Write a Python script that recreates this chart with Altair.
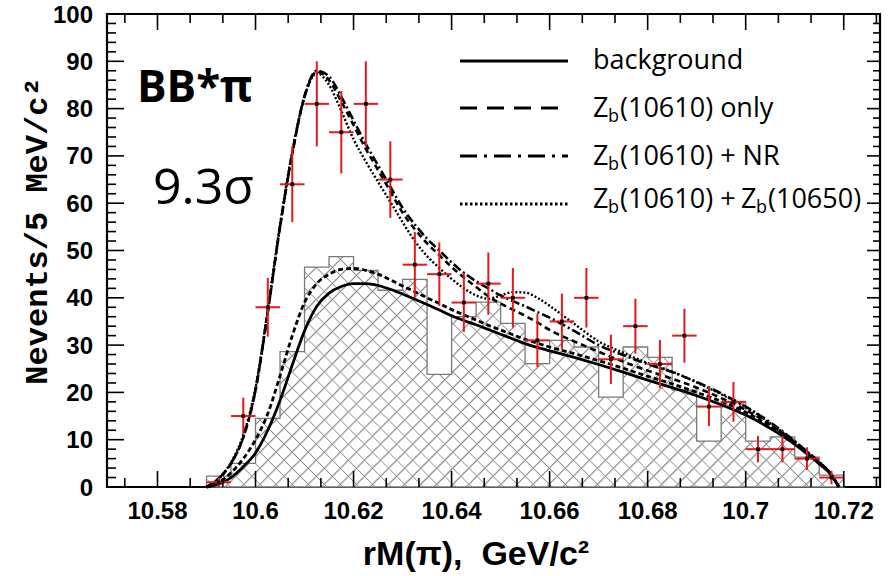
import altair as alt
import pandas as pd

# ---------------- data ----------------
bin_centers = [10.5925, 10.5975, 10.6025, 10.6075, 10.6125, 10.6175, 10.6225, 10.6275,
               10.6325, 10.6375, 10.6425, 10.6475, 10.6525, 10.6575, 10.6625, 10.6675,
               10.6725, 10.6775, 10.6825, 10.6875, 10.6925, 10.6975, 10.7025, 10.7075,
               10.7125, 10.7175]
bin_half_width = 0.0025
n_events = [1, 15, 38, 64, 81, 75, 81, 65, 47, 45, 39, 43, 40, 31, 35, 40, 27, 34, 26, 32,
            17, 18, 8, 8, 6, 2]
n_err = [1.0, 3.9, 6.2, 8.0, 9.0, 8.7, 9.0, 8.1, 6.9, 6.7, 6.2, 6.6, 6.3, 5.6, 5.9, 6.3,
         5.2, 5.8, 5.1, 5.7, 4.1, 4.2, 2.8, 2.8, 2.4, 1.4]
bkg_mc = [2.3, 5.0, 14.5, 28.6, 46.5, 48.7, 45.8, 41.6, 43.9, 23.8, 36.0, 39.1, 34.6, 26.1,
          31.0, 29.6, 19.0, 29.6, 27.4, 20.5, 9.7, 18.0, 9.7, 10.6, 6.3, 2.5]

curve_x = [10.590, 10.5925, 10.595, 10.5975, 10.600, 10.6025, 10.605, 10.6075, 10.610, 10.6125,
           10.615, 10.6175, 10.620, 10.6225, 10.625, 10.6275, 10.630, 10.6325, 10.635, 10.6375,
           10.640, 10.6425, 10.645, 10.6475, 10.650, 10.6525, 10.655, 10.6575, 10.660,
           10.665, 10.670, 10.675, 10.680, 10.685, 10.690, 10.695, 10.700, 10.705, 10.710,
           10.7125, 10.715, 10.7175, 10.719]
bkg_fit = [0, 0.6, 2.0, 4.3, 7.2, 12.0, 18.3, 25.8, 33.0, 38.2, 41.0, 42.4, 43.0, 43.0, 42.6,
           41.8, 40.8, 39.7, 38.6, 37.4, 36.2, 35.2, 34.3, 33.3, 32.3, 31.3, 30.3, 29.5, 28.8,
           27.4, 25.9, 24.3, 22.6, 21.0, 19.3, 17.4, 15.2, 12.4, 9.0, 7.0, 4.9, 2.5, 0]
bkg_nr = [0, 1.0, 3.0, 6.0, 10.0, 15.5, 23.5, 32.0, 39.0, 43.0, 45.0, 46.0, 46.2, 45.8, 45.0,
          43.8, 42.5, 41.3, 40.0, 38.8, 37.5, 36.4, 35.3, 34.2, 33.2, 32.2, 31.2, 30.4, 29.6,
          28.2, 26.7, 25.1, 23.4, 21.8, 20.0, 18.1, 15.8, 12.9, 9.3, 7.2, 5.0, 2.5, 0]
zb_only = [0, 1.8, 5.0, 10.5, 20.5, 37.0, 55.0, 70.5, 82.5, 87.8, 86.0, 81.5, 76.5, 71.5, 67.0,
           62.5, 58.0, 54.5, 51.5, 49.0, 46.5, 44.3, 42.3, 40.3, 38.8, 37.5, 36.2, 34.8, 33.2,
           30.8, 28.6, 26.5, 24.6, 22.9, 21.0, 18.8, 16.3, 13.2, 9.4, 7.3, 5.2, 2.6, 0]
zb_nr = [0, 1.8, 5.0, 10.5, 20.5, 37.0, 55.0, 70.5, 82.7, 88.0, 86.8, 82.5, 77.5, 72.5, 68.0,
         63.5, 59.0, 55.5, 52.5, 50.0, 47.5, 45.3, 43.5, 42.0, 40.5, 39.3, 38.2, 37.0, 35.8,
         33.0, 30.0, 27.9, 26.0, 24.3, 22.2, 19.8, 17.0, 13.7, 9.7, 7.5, 5.3, 2.6, 0]
zb_zb = [0, 1.8, 5.2, 11.0, 21.0, 37.5, 55.5, 71.0, 82.5, 87.5, 85.0, 79.5, 73.5, 68.8, 64.5,
         60.3, 56.0, 52.0, 48.8, 46.3, 44.0, 42.0, 40.5, 39.8, 40.5, 41.2, 41.1, 40.0, 38.3,
         34.5, 30.8, 28.4, 26.2, 24.4, 22.1, 19.6, 16.9, 13.5, 9.6, 7.4, 5.3, 2.6, 0]

x_tick_values = [10.58, 10.60, 10.62, 10.64, 10.66, 10.68, 10.70, 10.72]
x_tick_labels = ["10.58", "10.6", "10.62", "10.64", "10.66", "10.68", "10.7", "10.72"]
y_tick_values = [0, 10, 20, 30, 40, 50, 60, 70, 80, 90, 100]
y_tick_labels = ["0", "10", "20", "30", "40", "50", "60", "70", "80", "90", "100"]
x_title = "rM(π),\u00a0\u00a0GeV/c²"
y_title = "Nevents/5 MeV/c²"

# ---------------- layout ----------------
W, H = 773, 473
XDOM = [10.5697, 10.7274]
YDOM = [0, 100]
xs = alt.Scale(domain=XDOM, nice=False, zero=False)
ys = alt.Scale(domain=YDOM, nice=False, zero=False)
RED = "#e3191c"
ONE = alt.Data(values=[{}])

# ---------------- tables ----------------
pts = pd.DataFrame({
    "x": bin_centers, "n": n_events,
    "lo": [v - e for v, e in zip(n_events, n_err)],
    "hi": [v + e for v, e in zip(n_events, n_err)],
    "xl": [c - bin_half_width for c in bin_centers],
    "xr": [c + bin_half_width for c in bin_centers],
})
hist = pd.DataFrame({
    "x": [c - bin_half_width for c in bin_centers] + [bin_centers[-1] + bin_half_width],
    "y": bkg_mc + [bkg_mc[-1]],
})
curves = pd.DataFrame({"x": curve_x, "bkg": bkg_fit, "bkgnr": bkg_nr,
                       "only": zb_only, "nr": zb_nr, "zz": zb_zb})

# ---------------- hatch (cross-hatch via striped gradients) ----------------
hw = (hist["x"].max() - hist["x"].min()) / (XDOM[1] - XDOM[0]) * W
hh = max(bkg_mc) / (YDOM[1] - YDOM[0]) * H
r = hh / hw
k = (1 + r) / (1 + r * r)
period = 16.0
nstripes = int((hw + hh) / period)
half = 1.6 / (hw + hh)


def stripes(base):
    stops = [alt.GradientStop(offset=0, color=base)]
    for i in range(nstripes):
        c = (i + 0.5) / nstripes
        stops.append(alt.GradientStop(offset=c - half, color=base))
        stops.append(alt.GradientStop(offset=c, color="#858585"))
        stops.append(alt.GradientStop(offset=c + half, color=base))
    stops.append(alt.GradientStop(offset=1, color=base))
    return stops


grad_a = alt.Gradient(gradient="linear", stops=stripes("#ffffff"),
                      x1=0, y1=0, x2=k, y2=k * r)
grad_b = alt.Gradient(gradient="linear", stops=stripes("rgba(255,255,255,0)"),
                      x1=0, y1=1, x2=k, y2=1 - k * r)

hatch_a = alt.Chart(hist).mark_area(interpolate="step-after", color=grad_a, opacity=1).encode(
    x=alt.X("x:Q", scale=xs, axis=None), y=alt.Y("y:Q", scale=ys, axis=None))
hatch_b = alt.Chart(hist).mark_area(interpolate="step-after", color=grad_b, opacity=1,
                                    stroke="#7a7a7a", strokeWidth=1.3).encode(
    x=alt.X("x:Q", scale=xs, axis=None), y=alt.Y("y:Q", scale=ys, axis=None))


def curve(field, dash, width=2.6):
    kw = {"strokeDash": dash} if dash else {}
    return alt.Chart(curves).mark_line(color="black", strokeWidth=width,
                                       interpolate="monotone", **kw).encode(
        x=alt.X("x:Q", scale=xs, axis=None), y=alt.Y(f"{field}:Q", scale=ys, axis=None))


c_bkg = curve("bkg", None, 2.8)
c_bkgnr = curve("bkgnr", [5, 3], 2.8)
c_only = curve("only", [6, 4], 2.6)
c_nr = curve("nr", [9, 3, 2, 3], 2.6)
c_zz = curve("zz", [2, 2], 2.4)

ebar_v = alt.Chart(pts).mark_rule(color=RED, strokeWidth=2).encode(
    x=alt.X("x:Q", scale=xs, axis=None), y=alt.Y("lo:Q", scale=ys, axis=None), y2="hi:Q")
ebar_h = alt.Chart(pts).mark_rule(color=RED, strokeWidth=2).encode(
    x=alt.X("xl:Q", scale=xs, axis=None), x2="xr:Q", y=alt.Y("n:Q", scale=ys, axis=None))
dots = alt.Chart(pts).mark_square(color="black", size=14, opacity=1).encode(
    x=alt.X("x:Q", scale=xs, axis=None), y=alt.Y("n:Q", scale=ys, axis=None))

# ---------------- inward ticks + tick labels ----------------
step = 0.02 / 3
x_minor = [x_tick_values[0] - step] + [t + d for t in x_tick_values for d in (step, 2 * step)]
y_minor = [v + d for v in y_tick_values[:-1] for d in (2, 4, 6, 8)]
xmaj = pd.DataFrame({"v": x_tick_values, "lab": x_tick_labels})
xmin = pd.DataFrame({"v": x_minor})
ymaj = pd.DataFrame({"v": y_tick_values, "lab": y_tick_labels})
ymin = pd.DataFrame({"v": y_minor})


def xticks(df, length):
    b = alt.Chart(df).mark_rule(color="black", strokeWidth=1.6).encode(
        x=alt.X("v:Q", scale=xs, axis=None), y=alt.value(H), y2=alt.value(H - length))
    t = alt.Chart(df).mark_rule(color="black", strokeWidth=1.6).encode(
        x=alt.X("v:Q", scale=xs, axis=None), y=alt.value(0), y2=alt.value(length))
    return [b, t]


def yticks(df, length_l, length_r):
    left = alt.Chart(df).mark_rule(color="black", strokeWidth=1.6).encode(
        y=alt.Y("v:Q", scale=ys, axis=None), x=alt.value(0), x2=alt.value(length_l))
    right = alt.Chart(df).mark_rule(color="black", strokeWidth=1.6).encode(
        y=alt.Y("v:Q", scale=ys, axis=None), x=alt.value(W), x2=alt.value(W - length_r))
    return [left, right]


tick_layers = xticks(xmaj, 16) + xticks(xmin, 9) + yticks(ymaj, 17, 13) + yticks(ymin, 9, 7)

x_labels = alt.Chart(xmaj).mark_text(
    font="Liberation Sans", fontWeight="bold", fontSize=24, color="black",
    align="center", baseline="alphabetic").encode(
    x=alt.X("v:Q", scale=xs, axis=None), y=alt.value(H + 32), text="lab:N")
y_labels = alt.Chart(ymaj).mark_text(
    font="Liberation Sans", fontWeight="bold", fontSize=24, color="black",
    align="right", baseline="alphabetic", dy=8.5).encode(
    y=alt.Y("v:Q", scale=ys, axis=None), x=alt.value(-14), text="lab:N")

# ---------------- annotations & legend ----------------
LEG_FONT = "Open Sans"


def txt(s, x, y, size, font=LEG_FONT, weight="normal", align="left", angle=0):
    return alt.Chart(ONE).mark_text(text=s, font=font, fontSize=size, fontWeight=weight,
                                    align=align, baseline="alphabetic", color="black",
                                    angle=angle).encode(
        x=alt.value(x), y=alt.value(y))


def sample(y, dash):
    kw = {"strokeDash": dash} if dash else {}
    return alt.Chart(ONE).mark_rule(color="black", strokeWidth=3, **kw).encode(
        x=alt.value(353), x2=alt.value(461), y=alt.value(y))


annots = [
    txt(x_title, 369, 551, 34, font="Liberation Sans", weight="bold", align="center"),
    txt(y_title, -60, 217, 32, font="Liberation Mono", weight="bold", align="center",
        angle=270),
    txt("BB*π", 30, 88, 44, weight="bold"),
    txt("9.3σ", 46, 190, 50),
    sample(47, None), txt("background", 486, 55, 27),
    sample(94, [17, 10]), txt("Z", 486, 103, 27), txt("b", 501, 108, 18),
    txt("(10610) only", 513, 103, 27),
    sample(142, [17, 7, 3, 7]), txt("Z", 486, 151, 27), txt("b", 501, 156, 18),
    txt("(10610) + NR", 513, 151, 27),
    sample(190, [2.5, 2.5]), txt("Z", 486, 194, 27), txt("b", 501, 199, 18),
    txt("(10610) +", 513, 194, 27), txt("Z", 634, 194, 27), txt("b", 649, 199, 18),
    txt("(10650)", 661, 194, 27),
]

chart = alt.layer(
    hatch_a, hatch_b, c_bkg, c_bkgnr, c_only, c_nr, c_zz,
    ebar_v, ebar_h, dots, *tick_layers, x_labels, y_labels, *annots
).properties(
    width=W, height=H,
    padding={"left": 107, "top": 14, "right": 12, "bottom": 89},
    autosize=alt.AutoSizeParams(type="none"),
    background="white",
).configure_view(stroke="black", strokeWidth=2.2)

chart.save("out.html", embed_options={"renderer": "svg", "actions": False})
